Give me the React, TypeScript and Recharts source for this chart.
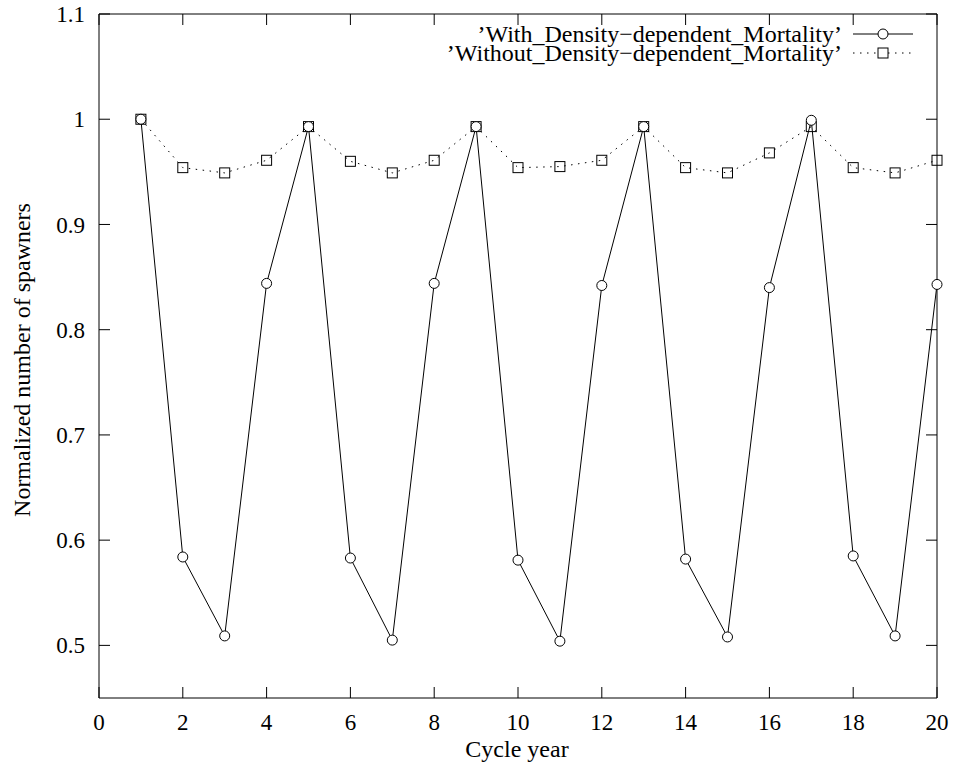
import React from 'react';
import { LineChart, Line, XAxis, YAxis, Legend } from 'recharts';

const CYCLE_YEARS = [1, 2, 3, 4, 5, 6, 7, 8, 9, 10, 11, 12, 13, 14, 15, 16, 17, 18, 19, 20];
const WITH_DDM = [1.0, 0.584, 0.509, 0.844, 0.993, 0.583, 0.505, 0.844, 0.993, 0.581, 0.504, 0.842, 0.993, 0.582, 0.508, 0.84, 0.999, 0.585, 0.509, 0.843];
const WITHOUT_DDM = [1.0, 0.954, 0.949, 0.961, 0.993, 0.96, 0.949, 0.961, 0.993, 0.954, 0.955, 0.961, 0.993, 0.954, 0.949, 0.968, 0.993, 0.954, 0.949, 0.961];
const X_TICKS = [0, 2, 4, 6, 8, 10, 12, 14, 16, 18, 20];
const Y_TICKS = [0.5, 0.6, 0.7, 0.8, 0.9, 1.0, 1.1];

const SERIES_NAMES = ['\u2019With_Density\u2212dependent_Mortality\u2019', '\u2019Without_Density\u2212dependent_Mortality\u2019'];

const data = CYCLE_YEARS.map((year, i) => ({ year, withDdm: WITH_DDM[i], withoutDdm: WITHOUT_DDM[i] }));

const FONT = '"Liberation Serif", "DejaVu Serif", serif';
const TICK_LEN = 11;
const TICK_FONT = 23;
const LABEL_FONT = 24;

const fmt = (v: number) => String(+v.toFixed(1));

const BottomTick = (props: any) => {
  const { x, y, payload } = props;
  return (
    <g>
      <line x1={x} y1={y} x2={x} y2={y - TICK_LEN} stroke="#000" />
      <text x={x} y={y + 24} dy="0.35em" textAnchor="middle" fontFamily={FONT} fontSize={TICK_FONT} fill="#000">
        {fmt(payload.value)}
      </text>
    </g>
  );
};

const TopTick = (props: any) => {
  const { x, y } = props;
  return <line x1={x} y1={y} x2={x} y2={y + TICK_LEN} stroke="#000" />;
};

const LeftTick = (props: any) => {
  const { x, y, payload } = props;
  return (
    <g>
      <line x1={x} y1={y} x2={x + TICK_LEN} y2={y} stroke="#000" />
      <text x={x - 14} y={y} dy="0.35em" textAnchor="end" fontFamily={FONT} fontSize={TICK_FONT} fill="#000">
        {fmt(payload.value)}
      </text>
    </g>
  );
};

const RightTick = (props: any) => {
  const { x, y } = props;
  return <line x1={x} y1={y} x2={x - TICK_LEN} y2={y} stroke="#000" />;
};

const SquareDot = (props: any) => {
  const { cx, cy, index } = props;
  return <rect key={`sq-${index}`} x={cx - 5} y={cy - 5} width={10} height={10} fill="none" stroke="#000" strokeWidth={1} />;
};

const GnuplotKey = () => (
  <svg width={954} height={70} style={{ display: 'block' }}>
    <text x={842} y={34} dy="0.35em" textAnchor="end" fontFamily={FONT} fontSize={LABEL_FONT} fill="#000">
      {SERIES_NAMES[0]}
    </text>
    <line x1={853} y1={34} x2={913} y2={34} stroke="#000" />
    <circle cx={883} cy={34} r={5} fill="#fff" stroke="#000" />
    <text x={842} y={53} dy="0.35em" textAnchor="end" fontFamily={FONT} fontSize={LABEL_FONT} fill="#000">
      {SERIES_NAMES[1]}
    </text>
    <line x1={853} y1={53} x2={913} y2={53} stroke="#000" strokeDasharray="1.5 5.5" />
    <rect x={878} y={48} width={10} height={10} fill="#fff" stroke="#000" />
  </svg>
);

const YLabel = () => (
  <text
    x={30}
    y={360}
    textAnchor="middle"
    transform="rotate(-90 30 360)"
    fontFamily={FONT}
    fontSize={LABEL_FONT}
    fill="#000"
  >
    Normalized number of spawners
  </text>
);

const XLabel = () => (
  <text x={517} y={757} textAnchor="middle" fontFamily={FONT} fontSize={LABEL_FONT} fill="#000">
    Cycle year
  </text>
);

export default function App() {
  return (
    <div style={{ position: 'absolute', left: 0, top: 0, background: '#fff' }}>
      <LineChart width={954} height={769} data={data} margin={{ top: 13, right: 16, bottom: 0, left: 0 }}>
        <XAxis
          xAxisId="bottom"
          dataKey="year"
          type="number"
          domain={[0, 20]}
          ticks={X_TICKS}
          height={71}
          tickSize={0}
          tickMargin={0}
          tickLine={false}
          tick={<BottomTick />}
          axisLine={{ stroke: '#000' }}
          label={<XLabel />}
        />
        <XAxis
          xAxisId="top"
          orientation="top"
          dataKey="year"
          type="number"
          domain={[0, 20]}
          ticks={X_TICKS}
          height={1}
          tickSize={0}
          tickMargin={0}
          tickLine={false}
          tick={<TopTick />}
          axisLine={{ stroke: '#000' }}
        />
        <YAxis
          yAxisId="left"
          type="number"
          domain={[0.45, 1.1]}
          ticks={Y_TICKS}
          width={99}
          tickSize={0}
          tickMargin={0}
          tickLine={false}
          tick={<LeftTick />}
          axisLine={{ stroke: '#000' }}
          label={<YLabel />}
        />
        <YAxis
          yAxisId="right"
          orientation="right"
          type="number"
          domain={[0.45, 1.1]}
          ticks={Y_TICKS}
          width={1}
          tickSize={0}
          tickMargin={0}
          tickLine={false}
          tick={<RightTick />}
          axisLine={{ stroke: '#000' }}
        />
        <Legend
          layout="vertical"
          align="center"
          verticalAlign="middle"
          wrapperStyle={{ position: 'absolute', top: 0, left: 0, width: 954 }}
          content={<GnuplotKey />}
        />
        {/* invisible series so the mirrored top/right axes are bound and drawn */}
        <Line
          xAxisId="top"
          yAxisId="right"
          dataKey="withDdm"
          stroke="none"
          dot={false}
          activeDot={false}
          legendType="none"
          isAnimationActive={false}
        />
        <Line
          xAxisId="bottom"
          yAxisId="left"
          dataKey="withoutDdm"
          name={SERIES_NAMES[1]}
          stroke="#000"
          strokeWidth={1}
          strokeDasharray="1.5 5.5"
          dot={<SquareDot />}
          isAnimationActive={false}
        />
        <Line
          xAxisId="bottom"
          yAxisId="left"
          dataKey="withDdm"
          name={SERIES_NAMES[0]}
          stroke="#000"
          strokeWidth={1}
          dot={{ r: 5, fill: '#fff', stroke: '#000', strokeWidth: 1 }}
          isAnimationActive={false}
        />
      </LineChart>
    </div>
  );
}
